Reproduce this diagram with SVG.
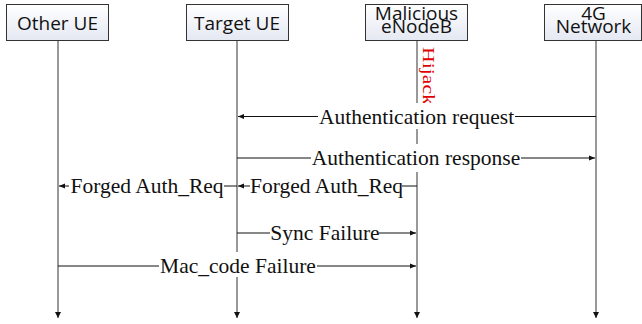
<svg xmlns="http://www.w3.org/2000/svg" width="642" height="324" viewBox="0 0 642 324">
<style>
.box{stroke:#333;stroke-width:1;fill:url(#g)}
.nl{font-family:"Open Sans","Liberation Sans",sans-serif;font-size:19px;fill:#111;text-anchor:middle}
.life{stroke:#333;stroke-width:1;fill:none}
.msg{stroke:#111;stroke-width:1;fill:none}
.ml{font-family:"Liberation Serif","Times New Roman",serif;font-size:21.5px;fill:#111;text-anchor:middle}
.bg{fill:#fff}
</style>
<defs>
<linearGradient id="g" x1="0" y1="0" x2="0" y2="1">
<stop offset="0" stop-color="#ffffff"/>
<stop offset="1" stop-color="#e4e8f2"/>
</linearGradient>
<marker id="ah" viewBox="0 0 6 6" refX="6" refY="3" markerWidth="6" markerHeight="6" markerUnits="userSpaceOnUse" orient="auto">
<path d="M0,0.5 L6,3 L0,5.5 Z" fill="#111"/>
</marker>
<marker id="lh" viewBox="0 0 6 6" refX="6" refY="3" markerWidth="6" markerHeight="6" markerUnits="userSpaceOnUse" orient="auto">
<path d="M0,0 L6,3 L0,6 Z" fill="#111"/>
</marker>
</defs>
<rect width="642" height="324" fill="#fff"/>
<g id="lifelines">
<line class="life" x1="58" y1="40" x2="58" y2="318" marker-end="url(#lh)"/>
<line class="life" x1="237" y1="40" x2="237" y2="318" marker-end="url(#lh)"/>
<line class="life" x1="417" y1="40" x2="417" y2="318" marker-end="url(#lh)"/>
<line class="life" x1="596" y1="40" x2="596" y2="318" marker-end="url(#lh)"/>
</g>
<g id="node-other-ue">
<rect class="box" x="6.5" y="4.5" width="102" height="36"/>
<text class="nl" x="57.5" y="30">Other UE</text>
</g>
<g id="node-target-ue">
<rect class="box" x="186.5" y="4.5" width="102" height="36"/>
<text class="nl" x="237" y="30">Target UE</text>
</g>
<g id="node-malicious-enodeb">
<rect class="box" x="365.5" y="4.5" width="102" height="36"/>
<text class="nl" x="416.5" y="20">Malicious</text>
<text class="nl" x="416.5" y="32.5">eNodeB</text>
</g>
<g id="node-4g-network">
<rect class="box" x="544.5" y="4.5" width="97" height="36"/>
<text class="nl" x="593.5" y="20">4G</text>
<text class="nl" x="593.5" y="32.5">Network</text>
</g>
<g id="connectors">
<text transform="translate(423,47) rotate(90)" font-family="Liberation Serif,serif" font-size="16.5" fill="#e00000" textLength="58" lengthAdjust="spacingAndGlyphs">Hijack</text>
<line class="msg" x1="596" y1="116.5" x2="238" y2="116.5" marker-end="url(#ah)"/>
<rect class="bg" x="318" y="103" width="197" height="26"/>
<text class="ml" x="416.5" y="123.5">Authentication request</text>
<line class="msg" x1="237" y1="158" x2="595" y2="158" marker-end="url(#ah)"/>
<rect class="bg" x="311" y="144" width="210" height="28"/>
<text class="ml" x="416" y="165">Authentication response</text>
<line class="msg" x1="417" y1="186" x2="238" y2="186" marker-end="url(#ah)"/>
<rect class="bg" x="250" y="174" width="152" height="24"/>
<text class="ml" x="326.5" y="193">Forged Auth_Req</text>
<line class="msg" x1="237" y1="186" x2="59" y2="186" marker-end="url(#ah)"/>
<rect class="bg" x="69" y="174" width="155" height="24"/>
<text class="ml" x="147" y="193">Forged Auth_Req</text>
<line class="msg" x1="237" y1="233" x2="416" y2="233" marker-end="url(#ah)"/>
<rect class="bg" x="270" y="221" width="109" height="24"/>
<text class="ml" x="325" y="240">Sync Failure</text>
<line class="msg" x1="58" y1="266" x2="416" y2="266" marker-end="url(#ah)"/>
<rect class="bg" x="159" y="252" width="158" height="25"/>
<text class="ml" x="238" y="273">Mac_code Failure</text>
</g>
</svg>
